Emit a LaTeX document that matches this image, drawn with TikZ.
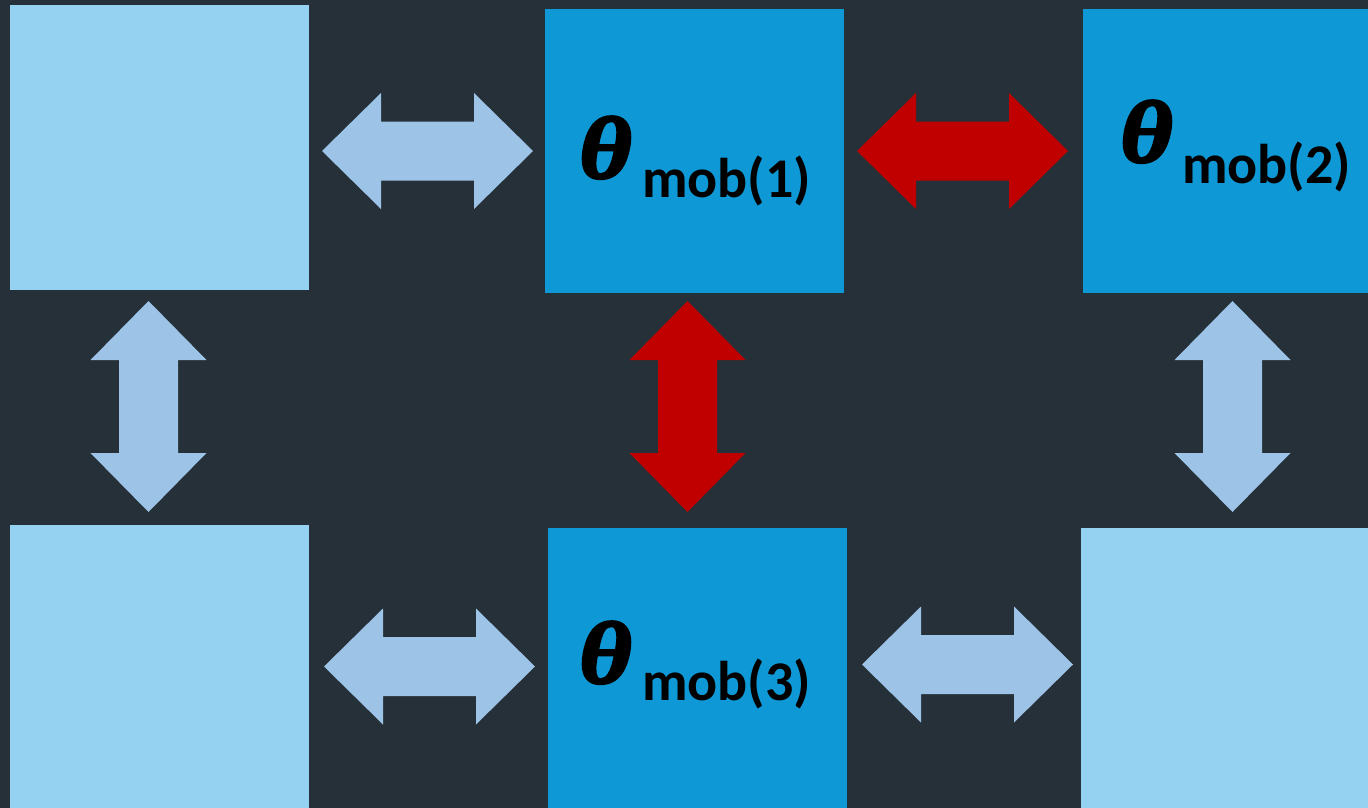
\documentclass[tikz,border=0pt]{standalone}
\usepackage{fontspec}
\newfontfamily\thetafont{Liberation Serif}[BoldItalicFeatures={FakeBold=3,FakeStretch=1.15}]
\newfontfamily\subfont{Carlito}
\definecolor{bg}{HTML}{253039}
\definecolor{lightbox}{HTML}{95D1F0}
\definecolor{midbox}{HTML}{0E98D5}
\definecolor{lightarrow}{HTML}{9DC3E6}
\definecolor{redarrow}{HTML}{C00000}
\begin{document}
\begin{tikzpicture}[x=1pt,y=-1pt,
  lbox/.style={fill=lightbox,draw=none,anchor=north west,inner sep=0pt},
  mbox/.style={fill=midbox,draw=none,anchor=north west,inner sep=0pt},
  thetalbl/.style={anchor=base west,inner sep=0pt,font=\thetafont\bfseries\itshape\fontsize{88}{88}\selectfont},
  sublbl/.style={anchor=base west,inner sep=0pt,font=\subfont\bfseries\fontsize{56}{56}\selectfont},
  pics/dblarrow/.style={code={
    \fill[#1] (-105.5,0) -- (-46.5,-58) -- (-46.5,-29.5) -- (46.5,-29.5) -- (46.5,-58)
      -- (105.5,0) -- (46.5,58) -- (46.5,29.5) -- (-46.5,29.5) -- (-46.5,58) -- cycle;
  }}]
\fill[bg] (0,0) rectangle (1368,808);
\useasboundingbox (0,0) rectangle (1368,808);
% boxes
\node[lbox,minimum width=299pt,minimum height=285pt] (tl) at (10,5) {};
\node[mbox,minimum width=299pt,minimum height=284pt] (tm) at (545,9) {};
\node[mbox,minimum width=285pt,minimum height=284pt] (tr) at (1083,9) {};
\node[lbox,minimum width=299pt,minimum height=283pt] (bl) at (10,525) {};
\node[mbox,minimum width=299pt,minimum height=280pt] (bm) at (548,528) {};
\node[lbox,minimum width=287pt,minimum height=280pt] (br) at (1081,528) {};
% labels
\node[thetalbl] (t1) at (579,178) {θ};
\node[sublbl] (s1) at (642,197) {mob(1)};
\node[thetalbl] (t2) at (1120,162) {θ};
\node[sublbl] (s2) at (1182,183) {mob(2)};
\node[thetalbl] (t3) at (579,683) {θ};
\node[sublbl] (s3) at (642,700) {mob(3)};
% arrows
\pic at (427.5,151) {dblarrow=lightarrow};
\pic at (962.5,151) {dblarrow=redarrow};
\pic[rotate=90] at (148.5,406.5) {dblarrow=lightarrow};
\pic[rotate=90] at (687.5,406.5) {dblarrow=redarrow};
\pic[rotate=90] at (1232.5,406.5) {dblarrow=lightarrow};
\pic at (429.5,666.5) {dblarrow=lightarrow};
\pic at (967.5,664.5) {dblarrow=lightarrow};
\end{tikzpicture}
\end{document}
